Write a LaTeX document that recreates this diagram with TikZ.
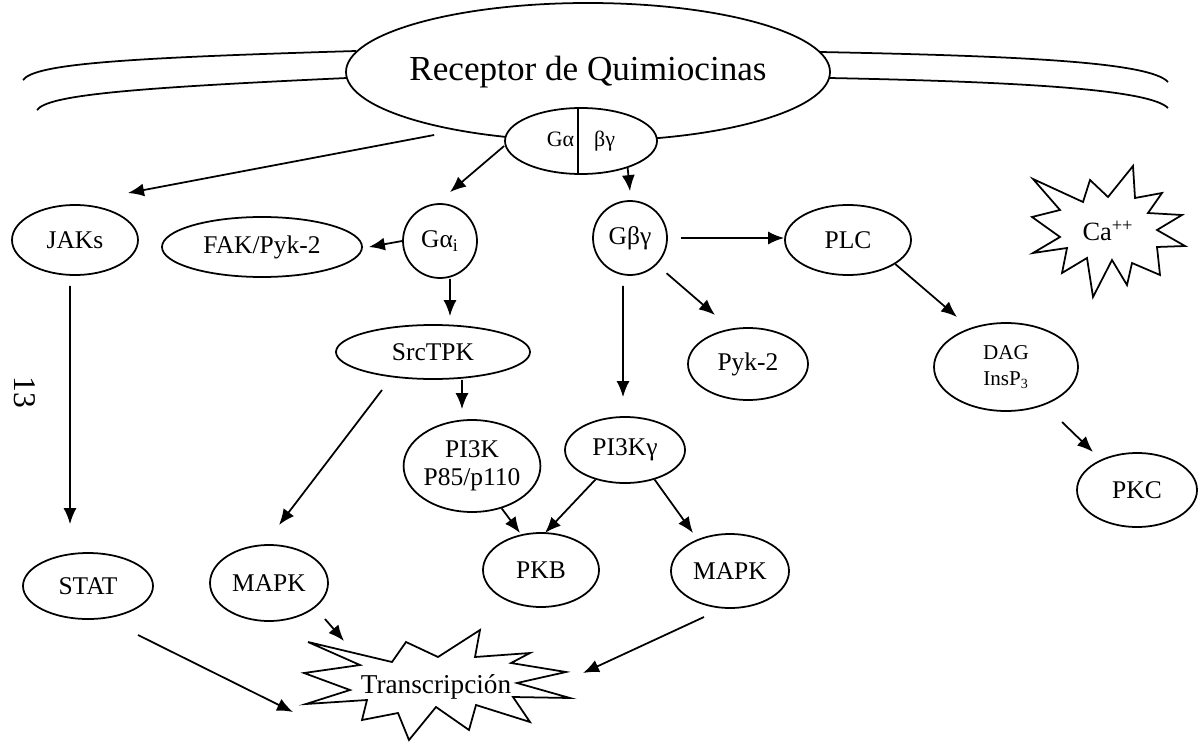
\documentclass[tikz,border=0pt]{standalone}
\usepackage{fontspec}
\setmainfont{Liberation Serif}
\usetikzlibrary{shapes.geometric, arrows.meta}

\tikzset{
  prot/.style={draw, ellipse, line width=1pt, fill=white, inner sep=0pt,
    font=\fontsize{14.5}{16}\selectfont},
  gcirc/.style={draw, circle, line width=1pt, fill=white, inner sep=0pt,
    minimum size=14.8mm, font=\fontsize{14.5}{16}\selectfont},
  arr/.style={-{Latex[length=3.2mm, width=2.6mm]}, line width=1pt},
}

\begin{document}
\begin{tikzpicture}[x=0.2mm, y=-0.2mm, line width=1pt]
\useasboundingbox (0,0) rectangle (1204,743);

% membrana
\draw (23,80) .. controls (35,64) and (120,58) .. (356,51);
\draw (37,110) .. controls (48,95) and (130,88) .. (347,78);
\draw (820,52) .. controls (1020,56) and (1150,62) .. (1168,82);
\draw (829,78) .. controls (1030,82) and (1150,90) .. (1168,108);

% receptor y proteina G
\node[prot, minimum width=96.8mm, minimum height=27.6mm, inner xsep=-2.5mm,
  font=\fontsize{20}{22}\selectfont] (rec) at (588,72) {Receptor de Quimiocinas};
\node[prot, minimum width=30.4mm, minimum height=13.2mm,
  font=\fontsize{12.5}{14}\selectfont] (gprot) at (581,141) {Gα\hspace{4mm}βγ};
\draw ([xshift=-0.6mm]gprot.north) -- ([xshift=-0.6mm]gprot.south);

% nodos
\node[prot, minimum width=25.2mm, minimum height=14mm] (jaks) at (75,240) {JAKs};
\node[prot, minimum width=40mm, minimum height=12mm] (fak) at (262,247) {FAK/Pyk-2};
\node[gcirc] (gai) at (440,241) {Gα\textsubscript{i}};
\node[gcirc] (gbg) at (630,238) {Gβγ};
\node[prot, minimum width=25.2mm, minimum height=14mm] (plc) at (848,240) {PLC};
\node[font=\fontsize{15}{16}\selectfont] (ca) at (1108,231) {Ca\textsuperscript{++}};
\node[prot, minimum width=38.8mm, minimum height=10.8mm] (src) at (433,352) {SrcTPK};
\node[prot, minimum width=24mm, minimum height=14.4mm] (pyk) at (748,364) {Pyk-2};
\node[prot, minimum width=28.8mm, minimum height=17.6mm, align=center,
  font=\fontsize{12}{15}\selectfont] (dag) at (1006,367) {DAG\\InsP\textsubscript{3}};
\node[prot, minimum width=27.2mm, minimum height=18.4mm, align=center] (pi3k) at (472,466) {PI3K\\P85/p110};
\node[prot, minimum width=24mm, minimum height=13.2mm] (pi3kg) at (625,450) {PI3Kγ};
\node[prot, minimum width=24mm, minimum height=14.8mm] (pkc) at (1137,490) {PKC};
\node[prot, minimum width=26mm, minimum height=13.2mm] (stat) at (88,586) {STAT};
\node[prot, minimum width=23.6mm, minimum height=15.2mm] (mapka) at (269,583) {MAPK};
\node[prot, minimum width=23.2mm, minimum height=14.8mm] (pkb) at (541,570) {PKB};
\node[prot, minimum width=23.6mm, minimum height=14.8mm] (mapkb) at (730,571) {MAPK};
\node[font=\fontsize{15.5}{17}\selectfont] (trans) at (436,687) {Transcripción};
\node[rotate=-90, font=\fontsize{18}{18}\selectfont] (pag) at (25,392) {13};

% estrellas
\draw[shift={(ca.center)}] (-75,-52) -- (-25,-29) -- (-18,-51) -- (0,-34) -- (25,-65)
  -- (27,-33) -- (54,-38) -- (40,-18) -- (74,-16) -- (49,-1) -- (77,15) -- (49,16)
  -- (52,44) -- (24,32) -- (19,54) -- (4,29) -- (-15,66) -- (-21,27) -- (-46,42)
  -- (-41,17) -- (-75,22) -- (-48,6) -- (-76,-14) -- (-48,-21) -- cycle;
\draw[shift={(trans.center)}] (-128,-45) -- (-44,-25) -- (-30,-45) -- (2,-30) -- (44,-57)
  -- (39,-30) -- (94,-34) -- (75,-24) -- (130,-15) -- (81,-4) -- (134,11) -- (77,10)
  -- (94,35) -- (40,18) -- (33,43) -- (0,20) -- (-27,53) -- (-38,26) -- (-74,33)
  -- (-69,13) -- (-130,17) -- (-86,3) -- (-132,-14) -- (-76,-22) -- cycle;

% flechas
\draw[arr] ([xshift=-14mm, yshift=1.2mm]gprot.west) -- ([xshift=10.6mm, yshift=9.4mm]jaks.center);
\draw[arr] ([yshift=-1mm]gprot.west) -- ([xshift=2mm, yshift=2.2mm]gai.north);
\draw[arr] (gprot.-30) -- ([yshift=1.8mm]gbg.north);
\draw[arr] (gai.west) -- ([xshift=1.2mm]fak.east);
\draw[arr] ([xshift=2mm]gai.south) -- ([xshift=3.4mm, yshift=1.6mm]src.north);
\draw[arr, shorten <=2.6mm] (gbg.east) -- (gbg.east -| plc.west);
\draw[arr, shorten <=2.6mm] (gbg.-45) -- ([xshift=-6.6mm, yshift=9.8mm]pyk.center);
\draw[arr, shorten <=2mm] ([xshift=-1.4mm]gbg.south) -- ([xshift=-0.4mm, yshift=3.8mm]pi3kg.north);
\draw[arr] (plc.-27) -- ([xshift=-9.8mm, yshift=10mm]dag.center);
\draw[arr] ([xshift=11.2mm, yshift=-11mm]dag.center) -- ([xshift=-8.8mm, yshift=7.6mm]pkc.center);
\draw[arr] ([xshift=-1mm, yshift=-2mm]jaks.south) -- ([xshift=-3.6mm, yshift=5.6mm]stat.north);
\draw[arr] ([xshift=-10.2mm, yshift=-7.6mm]src.center) -- ([xshift=2mm, yshift=11.6mm]mapka.center);
\draw[arr] ([xshift=5.8mm]src.south) -- ([xshift=-2mm, yshift=2mm]pi3k.north);
\draw[arr] (pi3k.-55) -- ([xshift=-4.2mm, yshift=7.4mm]pkb.center);
\draw[arr] (pi3kg.-135) -- ([xshift=0.8mm, yshift=7.4mm]pkb.center);
\draw[arr] (pi3kg.-45) -- ([xshift=-7.4mm, yshift=7.6mm]mapkb.center);
\draw[arr] ([xshift=10mm, yshift=-9.8mm]stat.center) -- ([xshift=-28.6mm, yshift=-5mm]trans.center);
\draw[arr] ([xshift=11.2mm, yshift=-7.2mm]mapka.center) -- ([xshift=-18.4mm, yshift=9.2mm]trans.center);
\draw[arr] ([xshift=-5.2mm, yshift=-9.2mm]mapkb.center) -- ([xshift=29.4mm, yshift=2.8mm]trans.center);
\end{tikzpicture}
\end{document}
